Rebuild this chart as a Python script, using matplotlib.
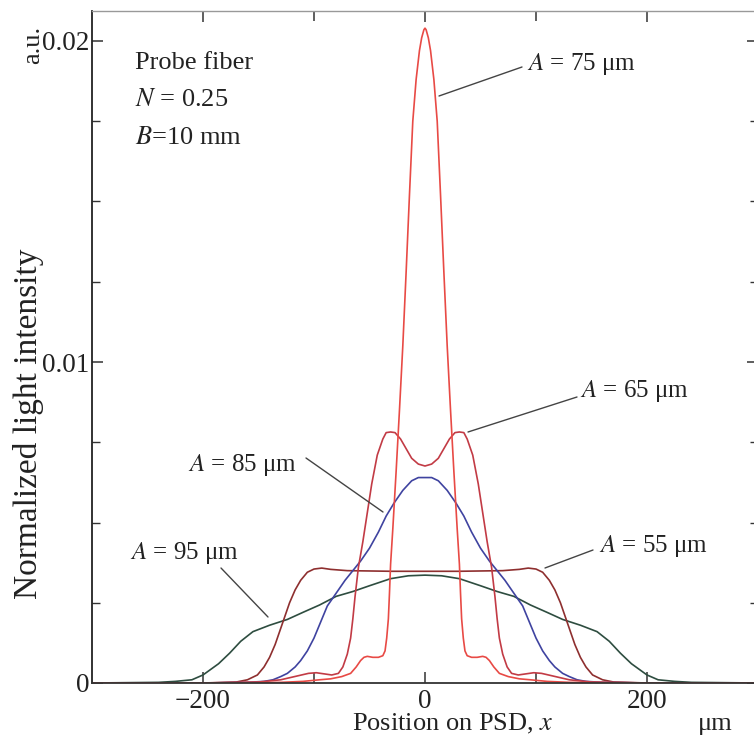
"""Normalized light intensity on the PSD for several probe offsets A."""

import matplotlib
matplotlib.use("Agg")
import matplotlib.pyplot as plt
from matplotlib.ticker import FixedLocator, MultipleLocator

W, H = 754, 740

# A = 75 um
x75 = [-300, -200, -130, -110, -95, -85, -75, -67, -62, -58, -55, -52, -47, -42, -38,
       -36, -34.5, -33, -32, -31, -29, -26, -23, -20, -17, -14, -11, -8, -5, -3, -1,
       0, 1, 3, 5, 8, 11, 14, 17, 20, 23, 26, 29, 31, 32, 33, 34.5, 36, 38, 42, 47, 52,
       55, 58, 62, 67, 75, 85, 95, 110, 130, 200, 300]
y75 = [0, 0, 0.00002, 0.00005, 0.0001, 0.00013, 0.0002, 0.0003, 0.0005, 0.0007, 0.0008,
       0.00083, 0.0008, 0.0008, 0.00085, 0.001, 0.0014, 0.002, 0.0028, 0.0037, 0.0048,
       0.0066, 0.0085, 0.0105, 0.0128, 0.0152, 0.0175, 0.0188, 0.0197, 0.0201, 0.02035,
       0.0204, 0.02035, 0.0201, 0.0197, 0.0188, 0.0175, 0.0152, 0.0128, 0.0105, 0.0085,
       0.0066, 0.0048, 0.0037, 0.0028, 0.002, 0.0014, 0.001, 0.00085, 0.0008, 0.0008,
       0.00083, 0.0008, 0.0007, 0.0005, 0.0003, 0.0002, 0.00013, 0.0001, 0.00005,
       0.00002, 0, 0]

# A = 65 um
x65 = [-300, -200, -150, -130, -115, -105, -98, -90, -84, -78, -74, -70, -67, -65, -63,
       -60, -56, -52, -48, -43, -38, -35, -31, -27, -22, -17, -12, -6, 0, 6, 12, 17, 22,
       27, 31, 35, 38, 43, 48, 52, 56, 60, 63, 65, 67, 70, 74, 78, 84, 90, 98, 105, 115,
       130, 150, 200, 300]
y65 = [0, 0, 0.00003, 0.0001, 0.00022, 0.0003, 0.00032, 0.00028, 0.00025, 0.0003,
       0.0005, 0.0009, 0.0014, 0.002, 0.0027, 0.0036, 0.0044, 0.0053, 0.0062, 0.0071,
       0.0076, 0.0078, 0.00782, 0.0078, 0.0076, 0.0073, 0.007, 0.00682, 0.00676,
       0.00682, 0.007, 0.0073, 0.0076, 0.0078, 0.00782, 0.0078, 0.0076, 0.0071, 0.0062,
       0.0053, 0.0044, 0.0036, 0.0027, 0.002, 0.0014, 0.0009, 0.0005, 0.0003, 0.00025,
       0.00028, 0.00032, 0.0003, 0.00022, 0.0001, 0.00003, 0, 0]

# A = 85 um
x85 = [-300, -200, -160, -145, -137, -130, -124, -117, -112, -106, -100, -94, -88, -80,
       -72, -65, -58, -50, -42, -35, -28, -20, -12, -6, 0, 6, 12, 20, 28, 35, 42, 50, 58,
       65, 72, 80, 88, 94, 100, 106, 112, 117, 124, 130, 137, 145, 160, 200, 300]
y85 = [0, 0, 0.00002, 0.00005, 0.0001, 0.0002, 0.0003, 0.0005, 0.0007, 0.001, 0.0014,
       0.0019, 0.0024, 0.0028, 0.0032, 0.0035, 0.0038, 0.0042, 0.0047, 0.0052, 0.0056,
       0.006, 0.0063, 0.0064, 0.0064, 0.0064, 0.0063, 0.006, 0.0056, 0.0052, 0.0047,
       0.0042, 0.0038, 0.0035, 0.0032, 0.0028, 0.0024, 0.0019, 0.0014, 0.001, 0.0007,
       0.0005, 0.0003, 0.0002, 0.0001, 0.00005, 0.00002, 0, 0]

# A = 55 um
x55 = [-300, -200, -170, -160, -151, -145, -140, -135, -130, -126, -122, -117, -112,
       -106, -100, -93, -85, -70, -50, -30, 0, 30, 50, 70, 85, 93, 100, 106, 112, 117,
       122, 126, 130, 135, 140, 145, 151, 160, 170, 200, 300]
y55 = [0, 0, 0.00003, 0.0001, 0.00025, 0.0005, 0.0008, 0.0012, 0.0017, 0.0021, 0.0025,
       0.0029, 0.0032, 0.00345, 0.00355, 0.00358, 0.00354, 0.0035, 0.00349, 0.00348,
       0.00348, 0.00348, 0.00349, 0.0035, 0.00354, 0.00358, 0.00355, 0.00345, 0.0032,
       0.0029, 0.0025, 0.0021, 0.0017, 0.0012, 0.0008, 0.0005, 0.00025, 0.0001,
       0.00003, 0, 0]

# A = 95 um
x95 = [-300, -240, -225, -210, -200, -194, -186, -176, -166, -155, -140, -124, -110,
       -95, -80, -65, -50, -31, -15, 0, 15, 31, 50, 65, 80, 95, 110, 124, 140, 155, 166,
       176, 186, 194, 200, 210, 225, 240, 300]
y95 = [0, 0.00002, 0.00005, 0.0001, 0.00025, 0.0004, 0.0006, 0.00093, 0.0013, 0.0016,
       0.0018, 0.00198, 0.0022, 0.00243, 0.0027, 0.00285, 0.00303, 0.00325, 0.00334,
       0.00336, 0.00334, 0.00325, 0.00303, 0.00285, 0.0027, 0.00243, 0.0022, 0.00198,
       0.0018, 0.0016, 0.0013, 0.00093, 0.0006, 0.0004, 0.00025, 0.0001, 0.00005,
       0.00002, 0]

CURVES = [
    (x95, y95, "#2e4d40"),
    (x55, y55, "#8e2f2f"),
    (x85, y85, "#3f43a0"),
    (x65, y65, "#c23b45"),
    (x75, y75, "#e84a45"),
]

# label text, text anchor (px), leader start on curve (px), leader end (px)
LABELS = [
    ("$A$ = 75 μm", (527, 70), (439, 96), (522, 67)),
    ("$A$ = 65 μm", (580, 397), (468, 432), (577, 397)),
    ("$A$ = 85 μm", (188, 471), (383, 512), (306, 458)),
    ("$A$ = 55 μm", (599, 552), (545, 568), (593, 550)),
    ("$A$ = 95 μm", (130, 559), (268, 617), (221, 568)),
]

plt.rcParams["font.family"] = ["Liberation Serif", "DejaVu Serif"]
plt.rcParams["mathtext.fontset"] = "stix"

X0_PX, XS = 425.0, 1.11          # pixel of x=0, pixels per um
Y0_PX, YS = 683.0, 32100.0       # pixel of y=0, pixels per unit


def px2data(px, py):
    return (px - X0_PX) / XS, (Y0_PX - py) / YS


def fig_xy(px, py):
    return px / W, 1 - py / H


fig = plt.figure(figsize=(W / 100, H / 100), dpi=100)
left = (X0_PX - 300 * XS) / W
right = (X0_PX + 300 * XS) / W
top_val = (Y0_PX - 10.5) / YS
ax = fig.add_axes([left, 1 - Y0_PX / H, right - left, (Y0_PX - 10.5) / H])

for xs, ys, col in CURVES:
    ax.plot(xs, ys, color=col, lw=1.2, solid_joinstyle="round")

ax.set_xlim(-300, 300)
ax.set_ylim(0, top_val)

ax.xaxis.set_major_locator(FixedLocator([-200, 0, 200]))
ax.xaxis.set_minor_locator(FixedLocator([-100, 100]))
ax.set_xticklabels(["\u2212200", "0", "200"])
ax.yaxis.set_major_locator(FixedLocator([0, 0.01, 0.02]))
ax.yaxis.set_minor_locator(MultipleLocator(0.0025))
ax.set_yticklabels(["0", "0.01", "0.02"])
ax.tick_params(which="both", direction="in", top=True, right=True,
               labelsize=19.5, colors="#333333", labelcolor="#222222")
ax.tick_params(axis="x", which="major", length=8, width=1.1, pad=4)
ax.tick_params(axis="x", which="minor", length=7, width=1.1)
ax.tick_params(axis="y", which="major", length=8, width=1.1, pad=2)
ax.tick_params(axis="y", which="minor", length=6, width=1.0)

ax.spines["left"].set_color("#222222")
ax.spines["left"].set_linewidth(1.3)
ax.spines["bottom"].set_color("#333333")
ax.spines["bottom"].set_linewidth(1.3)
ax.spines["top"].set_color("#999999")
ax.spines["top"].set_linewidth(1.0)
ax.spines["right"].set_color("#999999")

for txt, (tx, ty), (sx, sy), (ex, ey) in LABELS:
    ax.annotate("", xy=px2data(sx, sy), xytext=px2data(ex, ey),
                arrowprops=dict(arrowstyle="-", color="#444444", lw=1.0,
                                shrinkA=0, shrinkB=0))
    ax.text(*px2data(tx, ty), txt, fontsize=18, color="#222222",
            ha="left", va="baseline")

for i, txt in enumerate(["Probe fiber", "$N$ = 0.25", "$B$=10 mm"]):
    fig.text(*fig_xy(135, 69 + 37.5 * i), txt, fontsize=19, color="#222222",
             ha="left", va="baseline")

fig.text(*fig_xy(29, 424), "Normalized light intensity", fontsize=24,
         rotation=90, ha="center", va="center", color="#222222")
fig.text(*fig_xy(33, 45), "a.u.", fontsize=19, rotation=90,
         ha="center", va="center", color="#222222")
fig.text(*fig_xy(352, 730), "Position on PSD, $x$", fontsize=19,
         ha="left", va="baseline", color="#222222")
fig.text(*fig_xy(698, 730), "μm", fontsize=19, ha="left", va="baseline",
         color="#222222")

fig.savefig("out.png", dpi=100)
